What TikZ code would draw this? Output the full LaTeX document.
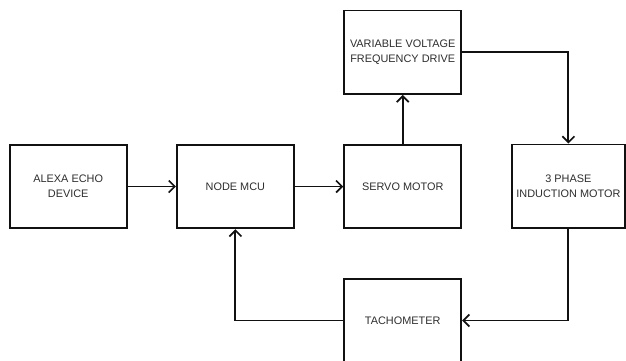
\documentclass[tikz,border=0pt]{standalone}
\usepackage{fontspec}
\setmainfont{Liberation Sans}
\usetikzlibrary{arrows.meta}
\definecolor{txt}{HTML}{2E2E2E}
\definecolor{ln}{HTML}{111111}
\tikzset{
  blk/.style={draw=ln, line width=1.9pt, minimum width=117pt, minimum height=83.5pt,
    inner sep=0pt, align=center, text=txt, font=\fontsize{10.9}{15}\selectfont},
  conn/.style={draw=ln, line width=1.9pt, -{Straight Barb[length=6pt,width=12pt,line width=1.7pt]}},
}
\begin{document}
\begin{tikzpicture}[x=1pt,y=-1pt]
\useasboundingbox (0,0) rectangle (626,360);
\node[blk] (alexa) at (68.2,186.5) {ALEXA ECHO\\DEVICE};
\node[blk] (mcu) at (235.4,186.5) {NODE MCU};
\node[blk] (servo) at (402.7,186.5) {SERVO MOTOR};
\node[blk] (vvfd) at (402.7,52.2) {VARIABLE VOLTAGE\\FREQUENCY DRIVE};
\node[blk, minimum width=113pt] (phase) at (568.4,186.2) {3 PHASE\\INDUCTION MOTOR};
\node[blk] (tach) at (402.7,320.5) {TACHOMETER};
\draw[conn] (alexa) -- (mcu);
\draw[conn] (mcu) -- (servo);
\draw[conn] (servo) -- (vvfd);
\draw[conn] (vvfd.east) -| (phase.north);
\draw[conn] (phase.south) |- (tach.east);
\draw[conn] (tach.west) -| (mcu.south);
\end{tikzpicture}
\end{document}
